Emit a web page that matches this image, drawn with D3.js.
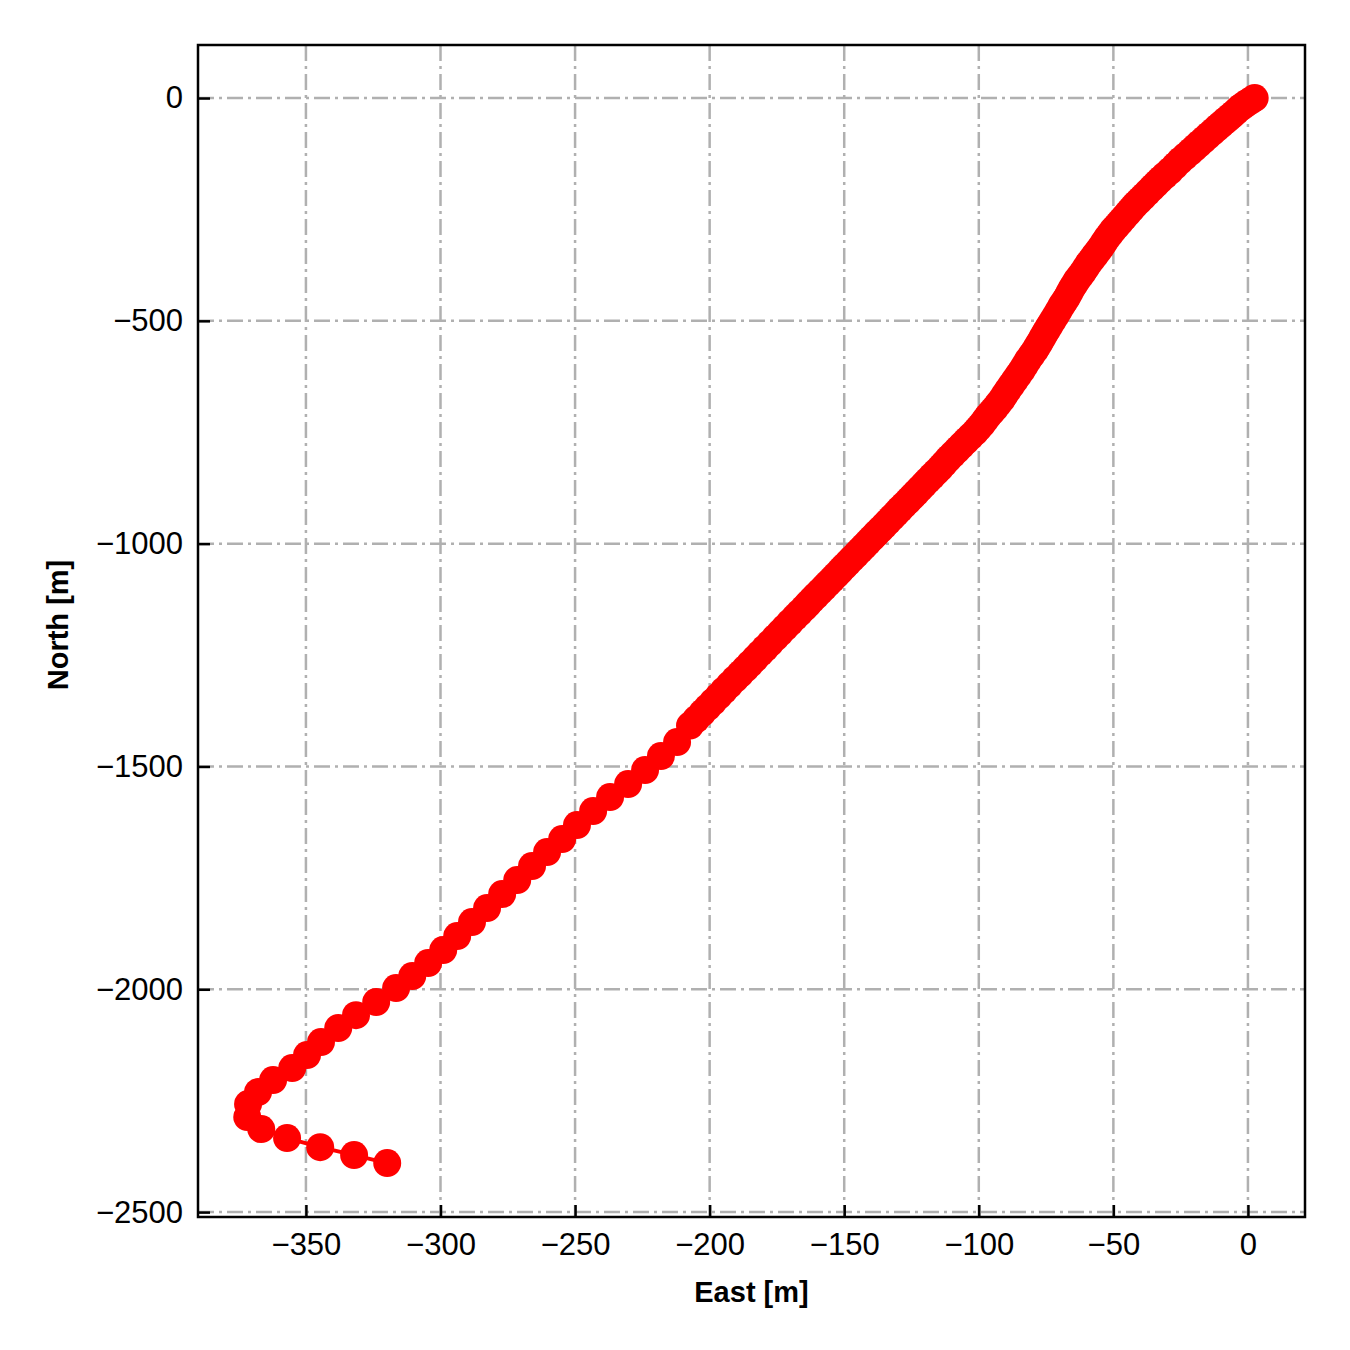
<!DOCTYPE html>
<html>
<head>
<meta charset="utf-8">
<script src="https://cdn.jsdelivr.net/npm/d3@7"></script>
<style>
  html, body { margin: 0; padding: 0; background: #fff; }
  svg { display: block; }
  text { font-family: "Liberation Sans", Arial, Helvetica, sans-serif; }
</style>
</head>
<body>
<svg id="chart" width="1350" height="1350"></svg>
<script>
// Track positions (East, North in metres)
const east = [
  2.5, 1.05, -0.4, -1.7, -3.0, -4.45, -5.9, -7.2, -8.5, -10.0,
  -11.5, -13.2, -14.9, -16.55, -18.2, -19.85, -21.5, -23.4, -25.3, -27.15,
  -29.0, -30.85, -32.7, -34.2, -35.7, -37.35, -39.0, -40.5, -42.0, -43.3,
  -44.6, -46.05, -47.5, -48.8, -50.1, -51.25, -52.4, -53.5, -54.6, -55.7,
  -56.8, -57.95, -59.1, -60.2, -61.3, -62.4, -63.5, -64.45, -65.4, -66.3,
  -67.2, -68.15, -69.1, -70.2, -71.3, -72.45, -73.6, -74.5, -75.4, -76.35,
  -77.3, -78.2, -79.1, -80.4, -81.7, -82.85, -84.0, -85.3, -86.6, -87.9,
  -89.2, -90.3, -91.4, -92.7, -94.0, -95.3, -96.6, -97.7, -98.8, -100.1,
  -101.4, -103.1, -104.8, -106.45, -108.1, -109.75, -111.4, -112.9, -114.4, -115.9,
  -117.4, -118.9, -120.4, -121.85, -123.3, -124.8, -126.3, -127.8, -129.3, -130.75,
  -132.2, -133.7, -135.2, -136.7, -138.2, -139.7, -141.2, -142.65, -144.1, -145.6,
  -147.1, -148.6, -150.1, -151.55, -153.0, -154.5, -156.0, -157.5, -159.0, -160.5,
  -162.0, -163.45, -164.9, -166.6, -168.3, -170.15, -172.0, -173.85, -175.7, -177.55,
  -179.4, -181.25, -183.1, -184.95, -186.8, -188.7, -190.6, -192.65, -194.7, -196.7,
  -198.7, -200.75, -202.8, -205.05, -207.3,
  -212.1, -218.1, -224.0, -230.3, -237.0, -243.3, -249.3,
  -254.8, -260.4, -266.0, -271.5, -277.1, -282.7, -288.3, -293.8, -299.0, -304.6,
  -310.5, -316.5, -323.9, -331.4, -338.0, -344.4, -349.6, -355.1, -362.2, -367.8,
  -371.5, -371.8, -366.6, -357.0, -344.7, -332.1, -319.8
];
const north = [
  0, -5.6, -11.2, -16.8, -22.4, -30.3, -38.2, -44.9, -51.6, -59.45,
  -67.3, -76.3, -85.3, -94.25, -103.2, -112.2, -121.2, -131.3, -141.4, -152.6,
  -163.8, -173.9, -184.0, -193.0, -202.0, -212.1, -222.2, -231.15, -240.1, -249.1,
  -258.1, -268.2, -278.3, -287.25, -296.2, -305.2, -314.2, -324.3, -334.4, -343.35,
  -352.3, -361.3, -370.3, -380.4, -390.5, -399.45, -408.4, -417.4, -426.4, -436.5,
  -446.6, -455.55, -464.5, -475.75, -487.0, -498.2, -509.4, -518.4, -527.4, -537.5,
  -547.6, -556.55, -565.5, -576.75, -588.0, -599.2, -610.4, -621.65, -632.9, -644.1,
  -655.3, -665.4, -675.5, -685.6, -695.7, -704.7, -713.7, -722.65, -731.6, -740.6,
  -749.6, -759.7, -769.8, -779.9, -790.0, -800.1, -810.2, -820.3, -830.4, -839.55,
  -848.7, -858.05, -867.4, -876.6, -885.8, -895.1, -904.4, -913.6, -922.8, -932.0,
  -941.2, -950.55, -959.9, -969.1, -978.3, -987.6, -996.9, -1006.1, -1015.3, -1024.5,
  -1033.7, -1043.0, -1052.3, -1061.5, -1070.7, -1080.0, -1089.3, -1098.5, -1107.7, -1116.9,
  -1126.1, -1135.45, -1144.8, -1155.1, -1165.4, -1176.95, -1188.5, -1200.05, -1211.6, -1223.15,
  -1234.7, -1246.3, -1257.9, -1269.45, -1281.0, -1292.55, -1304.1, -1316.8, -1329.5, -1342.15,
  -1354.8, -1367.5, -1380.2, -1394.2, -1408.2,
  -1445.3, -1476.7, -1508.1, -1539.5, -1568.7, -1600.1, -1631.5,
  -1663.0, -1692.1, -1723.5, -1755.0, -1786.4, -1817.8, -1849.2, -1880.6, -1912.1, -1941.2,
  -1970.4, -1997.3, -2028.8, -2058.0, -2087.1, -2118.5, -2147.7, -2176.9, -2203.8, -2230.7,
  -2257.7, -2286.8, -2313.8, -2334.0, -2354.2, -2372.1, -2390.1
];
const xTicks = [-350, -300, -250, -200, -150, -100, -50, 0];
const yTicks = [0, -500, -1000, -1500, -2000, -2500];
const xLabel = "East [m]";
const yLabel = "North [m]";

const n = Math.min(east.length, north.length);
const points = east.slice(0, n).map((e, i) => ({ e, n: north[i] }));

const svg = d3.select("#chart");
const pL = 198, pR = 1305, pT = 45, pB = 1217;

const x = d3.scaleLinear().domain([-390.1, 21.2]).range([pL, pR]);
const y = d3.scaleLinear().domain([-2511, 119]).range([pB, pT]);

const fmt = d => d < 0 ? "\u2212" + Math.abs(d) : String(d);

// grid
const grid = svg.append("g");
const gridStyle = s => s.attr("stroke", "#b0b0b0").attr("stroke-width", 2.5)
  .attr("stroke-dasharray", "16,5,3,5").attr("fill", "none");
grid.selectAll("line.gx").data(xTicks).join("line").attr("class", "gx")
  .attr("x1", d => x(d)).attr("x2", d => x(d))
  .attr("y1", pT).attr("y2", pB).call(gridStyle);
grid.selectAll("line.gy").data(yTicks).join("line").attr("class", "gy")
  .attr("x1", pL).attr("x2", pR)
  .attr("y1", d => y(d)).attr("y2", d => y(d)).call(gridStyle);

// axes (inward ticks)
const xAxis = d3.axisBottom(x).tickValues(xTicks).tickFormat(fmt).tickSizeInner(-12).tickSizeOuter(0);
const yAxis = d3.axisLeft(y).tickValues(yTicks).tickFormat(fmt).tickSizeInner(-12).tickSizeOuter(0);

const gx = svg.append("g").attr("transform", `translate(0,${pB})`).call(xAxis);
const gy = svg.append("g").attr("transform", `translate(${pL},0)`).call(yAxis);
[gx, gy].forEach(g => {
  g.select(".domain").remove();
  g.selectAll(".tick line").attr("stroke", "#000").attr("stroke-width", 2.5);
  g.selectAll(".tick text").attr("font-size", 31).attr("fill", "#000")
    .attr("font-family", "'Liberation Sans', Arial, sans-serif");
});
gx.selectAll(".tick text").attr("dy", "0.71em").attr("y", 16);
gy.selectAll(".tick text").attr("x", -15);

// data: line + markers
const line = d3.line().x(d => x(d.e)).y(d => y(d.n));
svg.append("path").datum(points).attr("d", line)
  .attr("fill", "none").attr("stroke", "#ff0000").attr("stroke-width", 4);
svg.append("g").selectAll("circle").data(points).join("circle")
  .attr("cx", d => x(d.e)).attr("cy", d => y(d.n)).attr("r", 14)
  .attr("fill", "#ff0000");

// frame
svg.append("rect").attr("x", pL).attr("y", pT)
  .attr("width", pR - pL).attr("height", pB - pT)
  .attr("fill", "none").attr("stroke", "#000").attr("stroke-width", 2.5);

// axis titles
svg.append("text").attr("x", (pL + pR) / 2).attr("y", 1302)
  .attr("text-anchor", "middle").attr("font-size", 29).attr("font-weight", "bold")
  .text(xLabel);
svg.append("text").attr("transform", `translate(68,625) rotate(-90)`)
  .attr("text-anchor", "middle").attr("font-size", 29).attr("font-weight", "bold")
  .text(yLabel);
</script>
</body>
</html>
